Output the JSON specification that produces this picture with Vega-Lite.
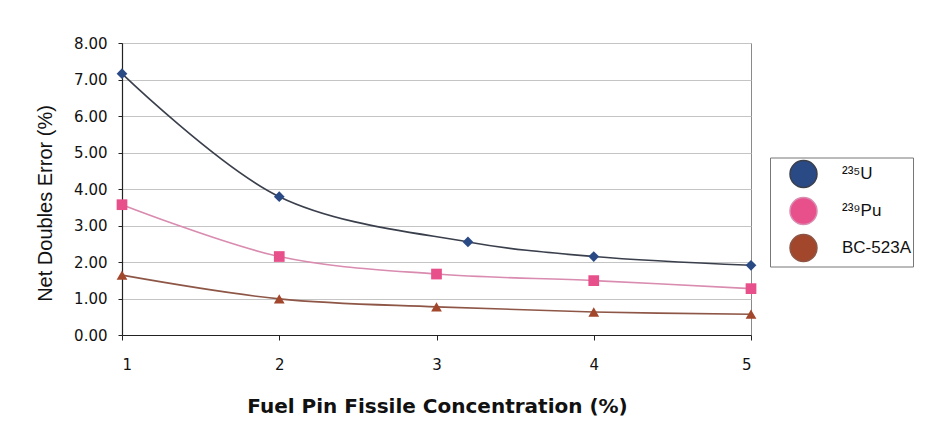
{
  "$schema": "https://vega.github.io/schema/vega-lite/v6.json",
  "autosize": {"type": "none"},
  "width": 629,
  "height": 292,
  "padding": {"left": 122, "top": 43, "right": 174, "bottom": 100},
  "background": "white",
  "config": {
    "font": "Liberation Sans",
    "view": {"stroke": "#8a8a8a", "strokeWidth": 1}
  },
  "data": {
    "values": [
      {"series": "²³⁵U", "x": 1, "y": 7.16},
      {"series": "²³⁵U", "x": 2, "y": 3.79},
      {"series": "²³⁵U", "x": 3.2, "y": 2.55},
      {"series": "²³⁵U", "x": 4, "y": 2.15},
      {"series": "²³⁵U", "x": 5, "y": 1.91},
      {"series": "²³⁹Pu", "x": 1, "y": 3.57},
      {"series": "²³⁹Pu", "x": 2, "y": 2.15},
      {"series": "²³⁹Pu", "x": 3, "y": 1.67},
      {"series": "²³⁹Pu", "x": 4, "y": 1.49},
      {"series": "²³⁹Pu", "x": 5, "y": 1.27},
      {"series": "BC-523A", "x": 1, "y": 1.64},
      {"series": "BC-523A", "x": 2, "y": 0.99},
      {"series": "BC-523A", "x": 3, "y": 0.77},
      {"series": "BC-523A", "x": 4, "y": 0.63},
      {"series": "BC-523A", "x": 5, "y": 0.57}
    ]
  },
  "encoding": {
    "x": {
      "field": "x", "type": "quantitative",
      "scale": {"domain": [1, 5], "nice": false, "zero": false},
      "axis": {
        "values": [1, 2, 3, 4, 5], "format": "d", "grid": false,
        "title": "Fuel Pin Fissile Concentration (%)",
        "titleFont": "DejaVu Sans", "titleFontSize": 20, "titleFontWeight": "bold", "titleColor": "#111",
        "titleX": 315, "titleY": 77, "titleBaseline": "alphabetic", "titleAlign": "center",
        "labelFont": "DejaVu Sans", "labelFontSize": 15, "labelColor": "#111", "labelPadding": 17,
        "tickSize": 5, "tickColor": "#222", "domainColor": "#222", "domainWidth": 1.2
      }
    },
    "y": {
      "field": "y", "type": "quantitative",
      "scale": {"domain": [0, 8], "nice": false},
      "axis": {
        "values": [0, 1, 2, 3, 4, 5, 6, 7, 8], "format": ".2f",
        "grid": true, "gridColor": "#c4c4c4", "gridWidth": 1,
        "title": "Net Doubles Error (%)",
        "titleFontSize": 20, "titleFontWeight": "normal", "titleColor": "#111",
        "titleX": -71, "titleY": 160, "titleAngle": -90, "titleBaseline": "alphabetic", "titleAlign": "center",
        "labelFont": "DejaVu Sans", "labelFontSize": 15, "labelColor": "#111", "labelPadding": 11,
        "tickSize": 4, "tickColor": "#222", "domainColor": "#222", "domainWidth": 1.2
      }
    }
  },
  "layer": [
    {
      "mark": {"type": "line", "interpolate": "catmull-rom", "strokeWidth": 1.6},
      "encoding": {
        "stroke": {
          "field": "series", "type": "nominal",
          "scale": {"domain": ["²³⁵U", "²³⁹Pu", "BC-523A"], "range": ["#3a3f4c", "#d98bb0", "#8e5646"]}
        },
        "detail": {"field": "series"}
      }
    },
    {
      "mark": {"type": "point", "filled": true, "opacity": 1, "size": 115},
      "encoding": {
        "fill": {
          "field": "series", "type": "nominal",
          "scale": {"domain": ["²³⁵U", "²³⁹Pu", "BC-523A"], "range": ["#2a4a86", "#e8508c", "#a2462c"]},
          "legend": {
            "title": null,
            "orient": "none", "legendX": 648, "legendY": 114.5,
            "strokeColor": "#777",
            "padding": 2,
            "rowPadding": 4,
            "symbolSize": 729,
            "symbolOffset": 17,
            "symbolStrokeWidth": 1.5,
            "labelFontSize": 17, "labelColor": "#111",
            "labelOffset": 24,
            "encode": {
              "symbols": {
                "shape": {"value": {"expr": "datum.label === 'BC-523A' ? 'M-2,0H2M0,-0.5L0.42,0.26H-0.42Z' : (datum.label === '²³⁹Pu' ? 'M-2,0H2M-0.36,-0.36H0.36V0.36H-0.36Z' : 'M-2,0H2M0,-0.44L0.41,0L0,0.44L-0.41,0Z')"}},
                "stroke": {"value": {"expr": "datum.label === 'BC-523A' ? '#8e5646' : (datum.label === '²³⁹Pu' ? '#d98bb0' : '#3a3f4c')"}},
                "strokeWidth": {"value": 1.5},
                "opacity": {"value": 1}
              }
            }
          }
        },
        "shape": {
          "field": "series", "type": "nominal",
          "scale": {"range": ["triangle-up", "diamond", "square"]},
          "legend": null
        }
      }
    }
  ]
}
